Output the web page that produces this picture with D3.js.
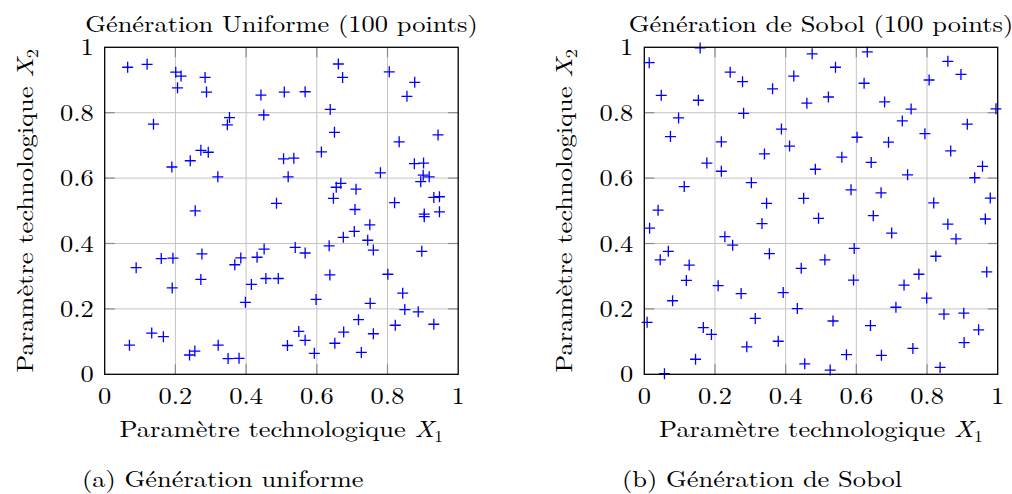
<!DOCTYPE html>
<html>
<head>
<meta charset="utf-8">
<script src="https://cdn.jsdelivr.net/npm/d3@7"></script>
<style>
  body { margin: 0; background: #fff; }
  svg text { font-family: "Latin Modern Roman", "CMU Serif", "Liberation Serif", serif; fill: #000; }
</style>
</head>
<body>
<script>
// tick values shared by both panels
const ticks = [0, 0.2, 0.4, 0.6, 0.8, 1];
const tickLabels = ['0', '0.2', '0.4', '0.6', '0.8', '1'];

// uniform sampling
const uniformX = [0.065, 0.120, 0.201, 0.216, 0.284, 0.206, 0.288, 0.442, 0.353, 0.347,
  0.450, 0.138, 0.272, 0.293, 0.242, 0.190, 0.320, 0.486, 0.256,
  0.508, 0.567, 0.661, 0.673, 0.805, 0.877, 0.855, 0.638, 0.650, 0.943,
  0.833, 0.613, 0.506, 0.535, 0.519, 0.876, 0.902, 0.780, 0.901, 0.918,
  0.894, 0.668, 0.655, 0.711, 0.647, 0.820, 0.931, 0.947, 0.708, 0.947,
  0.904, 0.904,
  0.089, 0.160, 0.193, 0.275, 0.368, 0.385, 0.431, 0.451, 0.272, 0.191,
  0.415, 0.456, 0.491, 0.398, 0.070, 0.133, 0.166, 0.240, 0.255, 0.321,
  0.349, 0.380,
  0.750, 0.706, 0.675, 0.744, 0.760, 0.635, 0.539, 0.567, 0.897, 0.637,
  0.801, 0.598, 0.751, 0.843, 0.849, 0.887, 0.718, 0.822, 0.931, 0.549,
  0.676, 0.760, 0.567, 0.517, 0.651, 0.593, 0.726];
const uniformY = [0.939, 0.948, 0.924, 0.912, 0.908, 0.876, 0.863, 0.854, 0.785, 0.763,
  0.793, 0.765, 0.685, 0.679, 0.653, 0.634, 0.604, 0.523, 0.500,
  0.863, 0.864, 0.949, 0.908, 0.925, 0.893, 0.850, 0.810, 0.740, 0.732,
  0.711, 0.680, 0.659, 0.661, 0.604, 0.644, 0.646, 0.616, 0.609, 0.604,
  0.589, 0.584, 0.572, 0.566, 0.538, 0.525, 0.541, 0.543, 0.504, 0.497,
  0.490, 0.482,
  0.326, 0.354, 0.355, 0.368, 0.335, 0.356, 0.358, 0.383, 0.290, 0.264,
  0.275, 0.293, 0.293, 0.220, 0.089, 0.126, 0.115, 0.059, 0.071, 0.089,
  0.048, 0.049,
  0.457, 0.437, 0.419, 0.410, 0.380, 0.393, 0.388, 0.371, 0.376, 0.304,
  0.306, 0.229, 0.217, 0.248, 0.198, 0.191, 0.167, 0.150, 0.153, 0.131,
  0.129, 0.124, 0.104, 0.088, 0.095, 0.064, 0.067];

// Sobol sequence
const sobolX = [0.158, 0.014, 0.475, 0.243, 0.278, 0.423, 0.363, 0.048, 0.153, 0.460,
  0.097, 0.281, 0.388, 0.074, 0.218, 0.411, 0.340, 0.177, 0.218, 0.484,
  0.113, 0.303, 0.451, 0.346, 0.039,
  0.631, 0.541, 0.859, 0.896, 0.622, 0.806, 0.521, 0.680, 0.755, 0.995,
  0.730, 0.914, 0.602, 0.794, 0.691, 0.867, 0.559, 0.642, 0.957, 0.745,
  0.935, 0.585, 0.670, 0.979, 0.819, 0.648,
  0.493, 0.015, 0.333, 0.228, 0.250, 0.068, 0.045, 0.127, 0.354, 0.511,
  0.444, 0.119, 0.209, 0.274, 0.393, 0.080, 0.433, 0.008, 0.314, 0.167,
  0.190, 0.379, 0.290, 0.145, 0.454, 0.057,
  0.859, 0.965, 0.700, 0.882, 0.594, 0.825, 0.969, 0.777, 0.592, 0.735,
  0.799, 0.712, 0.848, 0.904, 0.946, 0.534, 0.640, 0.905, 0.760, 0.572,
  0.671, 0.526, 0.837];
const sobolY = [0.998, 0.953, 0.980, 0.924, 0.895, 0.912, 0.873, 0.853, 0.838, 0.829,
  0.784, 0.798, 0.750, 0.727, 0.711, 0.698, 0.674, 0.646, 0.621, 0.627,
  0.574, 0.586, 0.538, 0.523, 0.502,
  0.986, 0.939, 0.957, 0.917, 0.890, 0.900, 0.848, 0.833, 0.811, 0.812,
  0.775, 0.765, 0.725, 0.736, 0.710, 0.683, 0.664, 0.648, 0.636, 0.610,
  0.601, 0.564, 0.555, 0.539, 0.524, 0.485,
  0.477, 0.447, 0.461, 0.421, 0.395, 0.376, 0.350, 0.334, 0.369, 0.350,
  0.324, 0.287, 0.271, 0.247, 0.250, 0.225, 0.201, 0.159, 0.171, 0.143,
  0.122, 0.101, 0.084, 0.046, 0.032, 0.002,
  0.459, 0.475, 0.432, 0.414, 0.385, 0.361, 0.313, 0.306, 0.288, 0.273,
  0.233, 0.205, 0.184, 0.187, 0.136, 0.163, 0.149, 0.097, 0.079, 0.060,
  0.058, 0.013, 0.021];

const width = 1012;
const height = 494;

const svg = d3.select('body').append('svg')
    .attr('width', width)
    .attr('height', height);

const panels = [
    {
        left: 104.7, right: 458.2,
        xs: uniformX, ys: uniformY,
        title: 'Génération Uniforme (100 points)',
        caption: '(a) Génération uniforme', captionX: 82
    },
    {
        left: 644.3, right: 997.7,
        xs: sobolX, ys: sobolY,
        title: 'Génération de Sobol (100 points)',
        caption: '(b) Génération de Sobol', captionX: 622
    }
];

const plotTop = 47.3, plotBottom = 374.3;
const fs = 23;       // label font size
const stretch = 1.15; // the serif fallback is narrower than the TeX font

panels.forEach(p => drawPanel(p));

// text placed at (x, y), optionally rotated, widened a little
function label(g, x, y, size, anchor, rot) {
    return g.append('text')
        .attr('transform', `translate(${x},${y}) rotate(${rot || 0}) scale(${stretch},1)`)
        .attr('text-anchor', anchor)
        .style('font-size', size + 'px');
}

function drawPanel(p) {
    const x = d3.scaleLinear().domain([0, 1]).range([p.left, p.right]);
    const y = d3.scaleLinear().domain([0, 1]).range([plotBottom, plotTop]);
    const g = svg.append('g');
    const cx = (p.left + p.right) / 2;
    const cy = (plotTop + plotBottom) / 2;

    // grid
    g.selectAll('line.gx')
        .data(ticks.slice(1, -1))
        .enter().append('line')
        .attr('x1', d => x(d)).attr('x2', d => x(d))
        .attr('y1', plotTop).attr('y2', plotBottom)
        .style('stroke', '#c4c4c4').style('stroke-width', 1);
    g.selectAll('line.gy')
        .data(ticks.slice(1, -1))
        .enter().append('line')
        .attr('y1', d => y(d)).attr('y2', d => y(d))
        .attr('x1', p.left).attr('x2', p.right)
        .style('stroke', '#c4c4c4').style('stroke-width', 1);

    // inner ticks on all four sides
    const tl = 10;
    ticks.slice(1, -1).forEach(t => {
        [[x(t), plotTop, x(t), plotTop + tl], [x(t), plotBottom, x(t), plotBottom - tl],
         [p.left, y(t), p.left + tl, y(t)], [p.right, y(t), p.right - tl, y(t)]]
            .forEach(s => g.append('line')
                .attr('x1', s[0]).attr('y1', s[1]).attr('x2', s[2]).attr('y2', s[3])
                .style('stroke', '#8a8a8a').style('stroke-width', 1.2));
    });

    // markers
    const arm = 5.5;
    const pts = p.xs.map((v, i) => [v, p.ys[i]]);
    g.selectAll('path.mark')
        .data(pts)
        .enter().append('path')
        .attr('d', d => {
            const px = x(d[0]), py = y(d[1]);
            return `M${px - arm},${py}H${px + arm}M${px},${py - arm}V${py + arm}`;
        })
        .style('stroke', '#0000ff').style('stroke-width', 1.3).style('fill', 'none');

    // frame
    g.append('rect')
        .attr('x', p.left).attr('y', plotTop)
        .attr('width', p.right - p.left).attr('height', plotBottom - plotTop)
        .style('fill', 'none').style('stroke', '#000').style('stroke-width', 1.3);

    // tick labels
    ticks.forEach((t, i) => {
        label(g, x(t), plotBottom + 30, fs, 'middle').text(tickLabels[i]);
        label(g, p.left - 11, y(t) + 8, fs, 'end').text(tickLabels[i]);
    });

    // axis labels
    const xl = label(g, cx, plotBottom + 63, fs, 'middle');
    xl.append('tspan').text('Paramètre technologique ');
    xl.append('tspan').style('font-style', 'italic').text('X');
    xl.append('tspan').attr('dy', 5).style('font-size', '16px').text('1');

    const yl = label(g, p.left - 72, cy, fs, 'middle', -90);
    yl.append('tspan').text('Paramètre technologique ');
    yl.append('tspan').style('font-style', 'italic').text('X');
    yl.append('tspan').attr('dy', 5).style('font-size', '16px').text('2');

    // title
    label(g, cx, 32, fs, 'middle').text(p.title);

    // sub-figure caption
    label(g, p.captionX, 487, fs, 'start').text(p.caption);
}
</script>
</body>
</html>
